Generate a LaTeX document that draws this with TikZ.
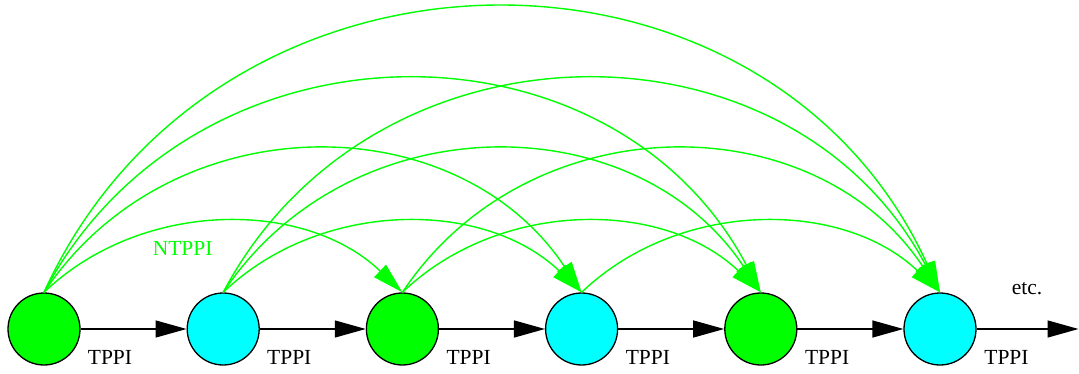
\documentclass[tikz,border=0pt]{standalone}
\usepackage{fontspec}
\setmainfont{Liberation Serif}
\usetikzlibrary{arrows.meta}
\definecolor{ggreen}{RGB}{0,255,0}
\definecolor{gcyan}{RGB}{0,255,255}
\tikzset{
  state/.style={circle, draw=black, line width=1.3pt, minimum size=72pt, inner sep=0pt},
  gnode/.style={state, fill=ggreen},
  cnode/.style={state, fill=gcyan},
  tedge/.style={draw=black, line width=1.4pt, -{Triangle[length=31pt,width=17pt]}},
  nedge/.style={draw=ggreen, line width=1.4pt, -{Triangle[length=31pt,width=17pt]}},
  lbl/.style={inner sep=0pt, anchor=base, font=\fontsize{21.5pt}{24pt}\selectfont},
  span2/.style={out=43.8, in=136.2, looseness=0.965},
  span3/.style={out=56.4, in=123.6, looseness=1.085},
  span4/.style={out=62.1, in=117.9, looseness=1.145},
  span5/.style={out=65.5, in=114.5, looseness=1.19},
}
\begin{document}
\begin{tikzpicture}[x=1pt, y=-1pt]
\useasboundingbox (0,0) rectangle (1079,374);
\node[gnode] (n1) at (44,329) {};
\node[cnode] (n2) at (223.2,329) {};
\node[gnode] (n3) at (402.4,329) {};
\node[cnode] (n4) at (581.6,329) {};
\node[gnode] (n5) at (760.8,329) {};
\node[cnode] (n6) at (940,329) {};
\coordinate (end) at (1078.5,329);
% TPPI edges
\draw[tedge] (n1) -- (n2);
\draw[tedge] (n2) -- (n3);
\draw[tedge] (n3) -- (n4);
\draw[tedge] (n4) -- (n5);
\draw[tedge] (n5) -- (n6);
\draw[tedge] (n6) -- (end);
\node[lbl] (t1) at (110,364.5) {TPPI};
\node[lbl] (t2) at (289.3,364.5) {TPPI};
\node[lbl] (t3) at (468.6,364.5) {TPPI};
\node[lbl] (t4) at (647.9,364.5) {TPPI};
\node[lbl] (t5) at (827.2,364.5) {TPPI};
\node[lbl] (t6) at (1006.5,364.5) {TPPI};
\node[lbl] (etc) at (1027,294) {etc.};
% NTPPI edges
\draw[nedge] (n1.north) to[span2] (n3.north);
\draw[nedge] (n1.north) to[span3] (n4.north);
\draw[nedge] (n1.north) to[span4] (n5.north);
\draw[nedge] (n1.north) to[span5] (n6.north);
\draw[nedge] (n2.north) to[span2] (n4.north);
\draw[nedge] (n2.north) to[span3] (n5.north);
\draw[nedge] (n2.north) to[span4] (n6.north);
\draw[nedge] (n3.north) to[span2] (n5.north);
\draw[nedge] (n3.north) to[span3] (n6.north);
\draw[nedge] (n4.north) to[span2] (n6.north);
\node[lbl, text=ggreen] (nt) at (182.7,255.7) {NTPPI};
\end{tikzpicture}
\end{document}
